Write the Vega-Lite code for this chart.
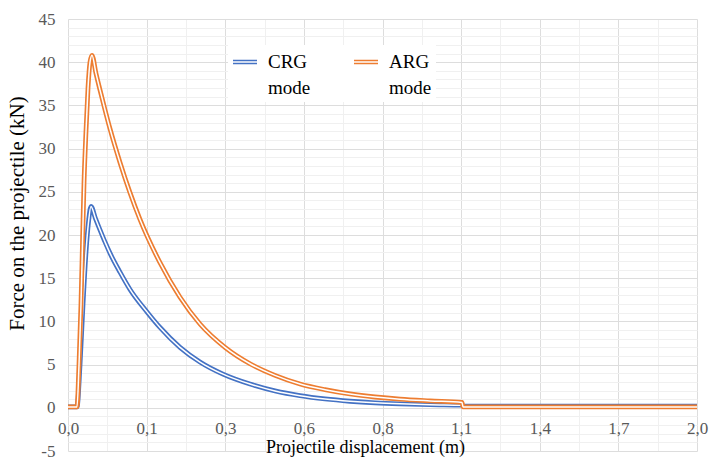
{
  "$schema": "https://vega.github.io/schema/vega-lite/v6.json",
  "width": 629,
  "height": 432,
  "autosize": {"type": "none"},
  "padding": {"left": 68, "top": 19, "right": 22, "bottom": 15},
  "background": "white",
  "config": {
    "view": {"stroke": null},
    "font": "Liberation Serif",
    "style": {"guide-label": {"lineHeight": 26}}
  },
  "data": {
    "values": [
      {"mode": "CRG mode", "x": 0, "y": 0.1},
      {"mode": "CRG mode", "x": 0.0286, "y": 0.1},
      {"mode": "CRG mode", "x": 0.0382, "y": 5},
      {"mode": "CRG mode", "x": 0.0477, "y": 12},
      {"mode": "CRG mode", "x": 0.0572, "y": 18},
      {"mode": "CRG mode", "x": 0.0652, "y": 21.5},
      {"mode": "CRG mode", "x": 0.0731, "y": 23.3},
      {"mode": "CRG mode", "x": 0.0875, "y": 21.9},
      {"mode": "CRG mode", "x": 0.1017, "y": 20.6},
      {"mode": "CRG mode", "x": 0.1176, "y": 19.2},
      {"mode": "CRG mode", "x": 0.1335, "y": 17.9},
      {"mode": "CRG mode", "x": 0.1653, "y": 15.7},
      {"mode": "CRG mode", "x": 0.1971, "y": 13.7},
      {"mode": "CRG mode", "x": 0.2512, "y": 11.1},
      {"mode": "CRG mode", "x": 0.2925, "y": 9.3},
      {"mode": "CRG mode", "x": 0.3561, "y": 7.0},
      {"mode": "CRG mode", "x": 0.4197, "y": 5.3},
      {"mode": "CRG mode", "x": 0.4928, "y": 3.9},
      {"mode": "CRG mode", "x": 0.5787, "y": 2.75},
      {"mode": "CRG mode", "x": 0.6582, "y": 1.95},
      {"mode": "CRG mode", "x": 0.7377, "y": 1.4},
      {"mode": "CRG mode", "x": 0.8172, "y": 1.02},
      {"mode": "CRG mode", "x": 0.8967, "y": 0.76},
      {"mode": "CRG mode", "x": 0.9762, "y": 0.58},
      {"mode": "CRG mode", "x": 1.0556, "y": 0.46},
      {"mode": "CRG mode", "x": 1.151, "y": 0.36},
      {"mode": "CRG mode", "x": 1.2528, "y": 0.3},
      {"mode": "CRG mode", "x": 1.256, "y": 0.2},
      {"mode": "CRG mode", "x": 2.0, "y": 0.2},
      {"mode": "ARG mode", "x": 0, "y": 0.1},
      {"mode": "ARG mode", "x": 0.0286, "y": 0.1},
      {"mode": "ARG mode", "x": 0.035, "y": 5},
      {"mode": "ARG mode", "x": 0.0413, "y": 12},
      {"mode": "ARG mode", "x": 0.0461, "y": 19},
      {"mode": "ARG mode", "x": 0.0509, "y": 26},
      {"mode": "ARG mode", "x": 0.0572, "y": 32},
      {"mode": "ARG mode", "x": 0.0636, "y": 37},
      {"mode": "ARG mode", "x": 0.070, "y": 40},
      {"mode": "ARG mode", "x": 0.0763, "y": 40.8},
      {"mode": "ARG mode", "x": 0.089, "y": 38.7},
      {"mode": "ARG mode", "x": 0.1017, "y": 36.8},
      {"mode": "ARG mode", "x": 0.1176, "y": 34.5},
      {"mode": "ARG mode", "x": 0.1335, "y": 32.3},
      {"mode": "ARG mode", "x": 0.1653, "y": 28.4},
      {"mode": "ARG mode", "x": 0.1971, "y": 24.9},
      {"mode": "ARG mode", "x": 0.2289, "y": 21.8},
      {"mode": "ARG mode", "x": 0.2925, "y": 16.8},
      {"mode": "ARG mode", "x": 0.3561, "y": 12.8},
      {"mode": "ARG mode", "x": 0.4197, "y": 9.7},
      {"mode": "ARG mode", "x": 0.4992, "y": 7.0},
      {"mode": "ARG mode", "x": 0.5787, "y": 5.1},
      {"mode": "ARG mode", "x": 0.6582, "y": 3.75},
      {"mode": "ARG mode", "x": 0.7377, "y": 2.75},
      {"mode": "ARG mode", "x": 0.8172, "y": 2.1},
      {"mode": "ARG mode", "x": 0.8967, "y": 1.6},
      {"mode": "ARG mode", "x": 0.9762, "y": 1.25},
      {"mode": "ARG mode", "x": 1.0556, "y": 1.0},
      {"mode": "ARG mode", "x": 1.151, "y": 0.8},
      {"mode": "ARG mode", "x": 1.2528, "y": 0.62},
      {"mode": "ARG mode", "x": 1.256, "y": 0.1},
      {"mode": "ARG mode", "x": 2.0, "y": 0.1}
    ]
  },
  "encoding": {
    "x": {
      "field": "x",
      "type": "quantitative",
      "scale": {"domain": [0, 2], "nice": false, "zero": false},
      "axis": {
        "values": [0, 0.125, 0.25, 0.375, 0.5, 0.625, 0.75, 0.875, 1, 1.125, 1.25, 1.375, 1.5, 1.625, 1.75, 1.875, 2],
        "labelExpr": "(datum.value * 4) % 1 == 0 ? ['0,0','0,1','0,3','0,6','0,8','1,1','1,4','1,7','2,0'][round(datum.value * 4)] : ''",
        "offset": -43,
        "domain": false,
        "ticks": false,
        "grid": true,
        "gridColor": {"condition": {"test": "(datum.value * 4) % 1 == 0", "value": "#DDDDDD"}, "value": "#F0F0F0"},
        "gridWidth": 1,
        "labelFont": "Liberation Serif",
        "labelFontSize": 17,
        "labelColor": "#595959",
        "labelPadding": 12,
        "labelFlush": false,
        "labelOverlap": false,
        "title": "Projectile displacement  (m)",
        "titleFont": "Liberation Serif",
        "titleFontSize": 18,
        "titleFontWeight": "normal",
        "titleColor": "black",
        "titlePadding": 2,
        "titleX": 297
      }
    },
    "y": {
      "field": "y",
      "type": "quantitative",
      "scale": {"domain": [-5, 45], "nice": false, "zero": false},
      "axis": {
        "values": [-5,-4,-3,-2,-1,0,1,2,3,4,5,6,7,8,9,10,11,12,13,14,15,16,17,18,19,20,21,22,23,24,25,26,27,28,29,30,31,32,33,34,35,36,37,38,39,40,41,42,43,44,45],
        "labelExpr": "datum.value % 5 == 0 ? replace(datum.label, '\u2212', '-') : ''",
        "domain": false,
        "ticks": false,
        "grid": true,
        "gridColor": {"condition": {"test": "datum.value % 5 == 0", "value": "#DDDDDD"}, "value": "#F0F0F0"},
        "labelFont": "Liberation Serif",
        "labelFontSize": 17,
        "labelColor": "#595959",
        "labelPadding": 13,
        "labelOverlap": false,
        "labelFlush": false,
        "title": "Force on the projectile  (kN)",
        "titleFont": "Liberation Serif",
        "titleFontSize": 21,
        "titleFontWeight": "normal",
        "titleColor": "black",
        "titleX": -41,
        "titleY": 194
      }
    }
  },
  "layer": [
    {
      "transform": [{"filter": "datum.mode == 'CRG mode'"}],
      "mark": {"type": "line", "strokeWidth": 4.8, "interpolate": "monotone"},
      "encoding": {
        "color": {
          "field": "mode",
          "type": "nominal",
          "scale": {"domain": ["CRG mode", "ARG mode"], "range": ["#4472C4", "#ED7D31"]},
          "legend": {
            "orient": "none",
            "legendX": 160,
            "legendY": 26,
            "direction": "horizontal",
            "title": null,
            "symbolType": "M-1,-0.12H1M-1,0.12H1",
            "symbolSize": 576,
            "symbolStrokeWidth": 1.5,
            "labelFont": "Liberation Serif",
            "labelFontSize": 19,
            "labelColor": "black",
            "labelExpr": "split(datum.label, ' ')",
            "labelOffset": 10,
            "columnPadding": 40,
            "fillColor": "white",
            "padding": 4
          }
        }
      }
    },
    {
      "transform": [{"filter": "datum.mode == 'CRG mode'"}],
      "mark": {"type": "line", "strokeWidth": 1.5, "color": "white", "interpolate": "monotone"},
      "encoding": {}
    },
    {
      "transform": [{"filter": "datum.mode == 'ARG mode'"}],
      "mark": {"type": "line", "strokeWidth": 4.8, "interpolate": "monotone"},
      "encoding": {"color": {"field": "mode", "type": "nominal"}}
    },
    {
      "transform": [{"filter": "datum.mode == 'ARG mode'"}],
      "mark": {"type": "line", "strokeWidth": 1.5, "color": "white", "interpolate": "monotone"},
      "encoding": {}
    }
  ]
}
